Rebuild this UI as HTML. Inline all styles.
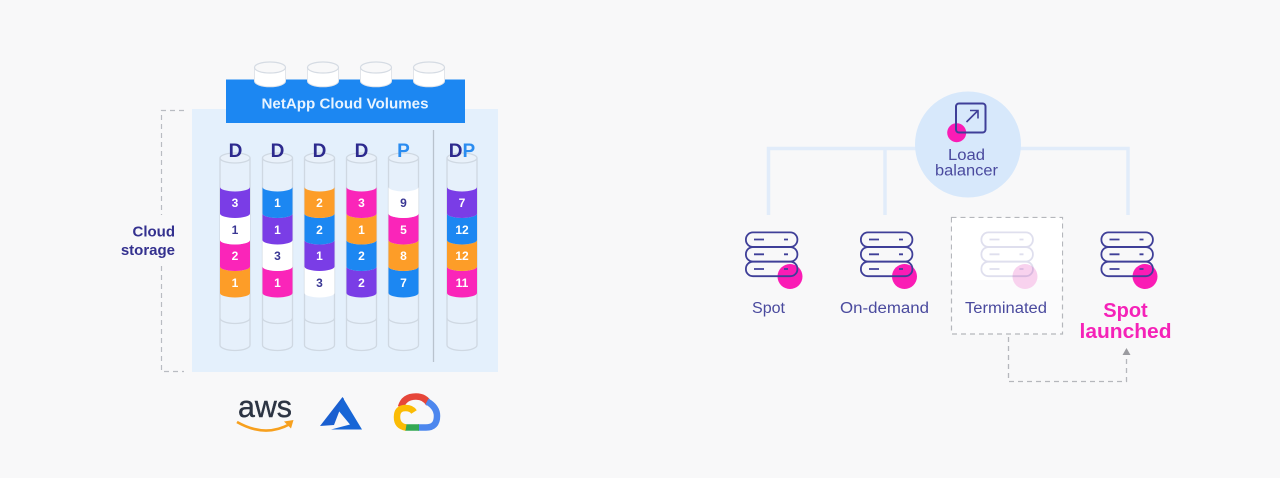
<!DOCTYPE html>
<html>
<head>
<meta charset="utf-8">
<style>
html,body{margin:0;padding:0;background:#f8f8f9;width:1280px;height:478px;overflow:hidden}
svg{display:block}
text{font-family:"Liberation Sans",sans-serif}
.n{font-size:12px;font-weight:700;text-anchor:middle;fill:#fff}
.k{fill:#3a3794}
.h{font-size:19px;font-weight:700;text-anchor:middle;fill:#2d2a8e}
.l{font-size:15.5px;text-anchor:middle;fill:#4a4a9e}
</style>
</head>
<body>
<svg width="1280" height="478" viewBox="0 0 1280 478" xmlns="http://www.w3.org/2000/svg">
<defs>
  <g id="top">
    <path d="M-15.5 -7.500V6A15.500 5.800 0 0 0 15.500 6V-7.500Z" fill="#fff" stroke="#e2e5ea" stroke-width="1"/>
    <ellipse cx="0" cy="-7.500" rx="15.500" ry="5.500" fill="#f8f8f9" stroke="#d5dbe3" stroke-width="1.200"/>
  </g>
  <g id="col">
    <path d="M-15 158V345A15 5.500 0 0 0 15 345V158" fill="#e6f0fb" stroke="#cfd8e2" stroke-width="1.300"/>
    <ellipse cx="0" cy="158" rx="15" ry="5" fill="#e9f1fa" stroke="#cfd8e2" stroke-width="1.300"/>
    <path d="M-15 318A15 5.500 0 0 0 15 318" fill="none" stroke="#cfd8e2" stroke-width="1.300"/>
  </g>
  <path id="seg" d="M-15 0A15 4.500 0 0 0 15 0V26.500A15 4.500 0 0 1 -15 26.500Z"/>
  <g id="srv" fill="none" stroke="#3f3f98" stroke-width="1.800">
    <rect x="0.900" y="0.900" width="51.500" height="14.500" rx="7"/>
    <rect x="0.900" y="15.600" width="51.500" height="14.500" rx="7"/>
    <rect x="0.900" y="30.200" width="51.500" height="14.500" rx="7"/>
    <path d="M9 8H19M39 8H43M9 22.800H19M39 22.800H43M9 37.500H19M39 37.500H43"/>
  </g>
</defs>

<!-- Cloud storage panel -->
<rect x="192" y="109" width="306" height="263" fill="#e4f0fc"/>
<rect x="226" y="79.500" width="239" height="43.500" fill="#1c87f2"/>
<use href="#top" x="270" y="75"/>
<use href="#top" x="323" y="75"/>
<use href="#top" x="376" y="75"/>
<use href="#top" x="429" y="75"/>
<text x="345" y="108.500" font-size="14.500" font-weight="700" fill="#e8f4ff" text-anchor="middle" textLength="167" lengthAdjust="spacingAndGlyphs">NetApp Cloud Volumes</text>

<path d="M184 110.500H161.500V215M161.500 266V371.500H184" fill="none" stroke="#b9bcc2" stroke-width="1.200" stroke-dasharray="5 4"/>
<text x="175" y="236.500" font-size="15" font-weight="700" fill="#34318f" text-anchor="end">Cloud</text>
<text x="175" y="255" font-size="15" font-weight="700" fill="#34318f" text-anchor="end">storage</text>

<line x1="433.500" y1="130" x2="433.500" y2="362" stroke="#b9c3ce" stroke-width="1.300"/>

<!-- Column 1 -->
<use href="#col" x="235"/>
<use href="#seg" x="235" y="266.500" fill="#fd9d28"/>
<use href="#seg" x="235" y="240" fill="#fa25b9"/>
<use href="#seg" x="235" y="213.500" fill="#fff"/>
<use href="#seg" x="235" y="187" fill="#7a3de6"/>
<!-- Column 2 -->
<use href="#col" x="277.500"/>
<use href="#seg" x="277.500" y="266.500" fill="#fa25b9"/>
<use href="#seg" x="277.500" y="240" fill="#fff"/>
<use href="#seg" x="277.500" y="213.500" fill="#7a3de6"/>
<use href="#seg" x="277.500" y="187" fill="#1c87f2"/>
<!-- Column 3 -->
<use href="#col" x="319.500"/>
<use href="#seg" x="319.500" y="266.500" fill="#fff"/>
<use href="#seg" x="319.500" y="240" fill="#7a3de6"/>
<use href="#seg" x="319.500" y="213.500" fill="#1c87f2"/>
<use href="#seg" x="319.500" y="187" fill="#fd9d28"/>
<!-- Column 4 -->
<use href="#col" x="361.500"/>
<use href="#seg" x="361.500" y="266.500" fill="#7a3de6"/>
<use href="#seg" x="361.500" y="240" fill="#1c87f2"/>
<use href="#seg" x="361.500" y="213.500" fill="#fd9d28"/>
<use href="#seg" x="361.500" y="187" fill="#fa25b9"/>
<!-- Column 5 -->
<use href="#col" x="403.500"/>
<use href="#seg" x="403.500" y="266.500" fill="#1c87f2"/>
<use href="#seg" x="403.500" y="240" fill="#fd9d28"/>
<use href="#seg" x="403.500" y="213.500" fill="#fa25b9"/>
<use href="#seg" x="403.500" y="187" fill="#fff"/>
<!-- Column 6 -->
<use href="#col" x="462"/>
<use href="#seg" x="462" y="266.500" fill="#fa25b9"/>
<use href="#seg" x="462" y="240" fill="#fd9d28"/>
<use href="#seg" x="462" y="213.500" fill="#1c87f2"/>
<use href="#seg" x="462" y="187" fill="#7a3de6"/>

<!-- Column headings -->
<text class="h" x="235.500" y="157">D</text>
<text class="h" x="277.500" y="157">D</text>
<text class="h" x="319.500" y="157">D</text>
<text class="h" x="361.500" y="157">D</text>
<text class="h" x="403.500" y="157" style="fill:#2a8cf0">P</text>
<text class="h" x="462" y="157">D<tspan fill="#2a8cf0">P</tspan></text>

<!-- Numbers -->
<text class="n" x="235" y="207">3</text><text class="n k" x="235" y="234">1</text><text class="n" x="235" y="260">2</text><text class="n" x="235" y="287">1</text>
<text class="n" x="277.500" y="207">1</text><text class="n" x="277.500" y="234">1</text><text class="n k" x="277.500" y="260">3</text><text class="n" x="277.500" y="287">1</text>
<text class="n" x="319.500" y="207">2</text><text class="n" x="319.500" y="234">2</text><text class="n" x="319.500" y="260">1</text><text class="n k" x="319.500" y="287">3</text>
<text class="n" x="361.500" y="207">3</text><text class="n" x="361.500" y="234">1</text><text class="n" x="361.500" y="260">2</text><text class="n" x="361.500" y="287">2</text>
<text class="n k" x="403.500" y="207">9</text><text class="n" x="403.500" y="234">5</text><text class="n" x="403.500" y="260">8</text><text class="n" x="403.500" y="287">7</text>
<text class="n" x="462" y="207">7</text><text class="n" x="462" y="234">12</text><text class="n" x="462" y="260">12</text><text class="n" x="462" y="287">11</text>

<!-- AWS logo -->
<text x="265" y="417" font-size="31" fill="#2c3443" stroke="#2c3443" stroke-width="0.400" text-anchor="middle" textLength="54" lengthAdjust="spacingAndGlyphs">aws</text>
<path d="M237 422Q265 438 290 424" fill="none" stroke="#f7a01e" stroke-width="2.600"/>
<path d="M284 421.500L293.500 420L291 428.500Z" fill="#f7a01e"/>

<!-- Azure logo -->
<path d="M342.500 397L320 426L334 425L344 399Z" fill="#1a5fd0"/>
<path d="M343 398L362 429.500H331L350 424.500L338 410Z" fill="#1766d6"/>

<!-- Google Cloud logo -->
<g fill="none" stroke-width="6.500">
  <path d="M401 407Q404 396.500 416 396.500Q425 396.500 429 404" stroke="#e6463a"/>
  <path d="M427 401.500Q437 407 437 416Q437 427.500 426 427.500H418" stroke="#4d87ee"/>
  <path d="M419 427.500H405" stroke="#33a853"/>
  <path d="M406 427.500Q397 426 397 417Q397 408 405.500 408Q411.500 408 414 412" stroke="#fbbc05"/>
</g>

<!-- Load balancer -->
<path d="M768.500 215V148.500H1128V215" fill="none" stroke="#e1ecfa" stroke-width="3.500"/>
<line x1="885" y1="148.500" x2="885" y2="215" stroke="#e1ecfa" stroke-width="3.500"/>
<circle cx="968" cy="144.500" r="53" fill="#d7e8fb"/>
<circle cx="956.700" cy="132.700" r="9.500" fill="#fa1cb5"/>
<rect x="956" y="103.500" width="29.500" height="29" rx="3" fill="none" stroke="#3f3f98" stroke-width="2"/>
<path d="M966.500 122L978 110.500M970 110.500H978V118.500" fill="none" stroke="#3f3f98" stroke-width="1.600"/>
<text class="l" x="966.500" y="160" textLength="37" lengthAdjust="spacingAndGlyphs">Load</text>
<text class="l" x="966.500" y="175.500" textLength="63" lengthAdjust="spacingAndGlyphs">balancer</text>

<!-- Terminated box -->
<rect x="951.500" y="217.500" width="111" height="116.500" fill="#fbfbfc" stroke="#b5b7bc" stroke-width="1.200" stroke-dasharray="5 4"/>
<rect x="952" y="218" width="110" height="62" fill="#fff"/>

<!-- Servers -->
<circle cx="790" cy="276.500" r="12.500" fill="#fa1cb5"/>
<use href="#srv" x="745" y="231.500"/>
<circle cx="904.500" cy="276.500" r="12.500" fill="#fa1cb5"/>
<use href="#srv" x="860" y="231.500"/>
<circle cx="1025" cy="276.500" r="12.500" fill="#f8d2ee"/>
<g opacity="0.16">
  <use href="#srv" x="980.500" y="231.500"/>
</g>
<circle cx="1145" cy="276.500" r="12.500" fill="#fa1cb5"/>
<use href="#srv" x="1100.500" y="231.500"/>

<text class="l" x="768.500" y="313" textLength="33" lengthAdjust="spacingAndGlyphs">Spot</text>
<text class="l" x="884.500" y="313" textLength="89" lengthAdjust="spacingAndGlyphs">On-demand</text>
<text class="l" x="1006" y="313" textLength="82" lengthAdjust="spacingAndGlyphs">Terminated</text>
<text x="1125.500" y="317" font-size="20" font-weight="700" fill="#f522b8" text-anchor="middle">Spot</text>
<text x="1125.500" y="338" font-size="20" font-weight="700" fill="#f522b8" text-anchor="middle" textLength="92" lengthAdjust="spacingAndGlyphs">launched</text>

<!-- Respawn connector -->
<path d="M1008.500 337V381.500H1126.500V356" fill="none" stroke="#b5b7bc" stroke-width="1.300" stroke-dasharray="5 4"/>
<path d="M1126.500 348L1130.500 355H1122.500Z" fill="#9b9ba0"/>
</svg>
</body>
</html>
